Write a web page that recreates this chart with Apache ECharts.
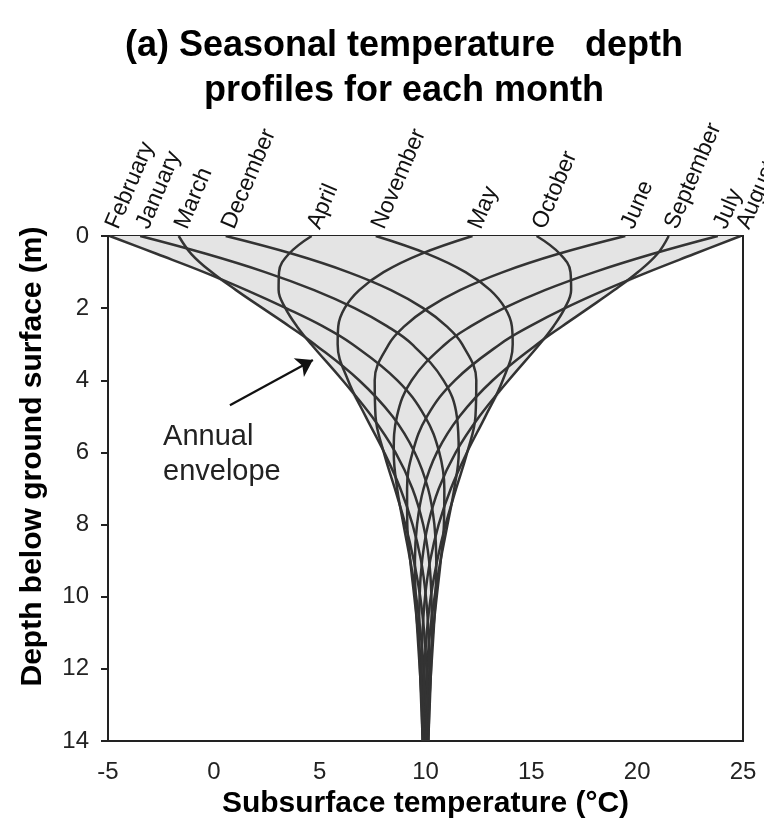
<!DOCTYPE html>
<html>
<head>
<meta charset="utf-8">
<script src="https://cdn.jsdelivr.net/npm/echarts@6/dist/echarts.min.js"></script>
<style>html,body{margin:0;padding:0;background:#fff}#c{width:764px;height:834px}</style>
</head>
<body>
<div id="c"></div>
<script>
// ---- data ----
const depths = [0, 0.5, 1, 1.5, 2, 2.5, 3, 4, 5, 6, 7, 8, 9, 10, 11, 12, 13, 14];
const monthNames = ['January','February','March','April','May','June','July','August','September','October','November','December'];
const january   = [-3.48,-0.33, 2.42, 4.74, 6.65, 8.18, 9.36,10.85,11.48,11.57,11.36,11.04,10.71,10.43,10.21,10.07, 9.99, 9.94];
const february  = [-4.92,-2.68,-0.47, 1.54, 3.41, 5.14, 6.55, 8.67, 9.97,10.65,10.89,10.87,10.72,10.53,10.35,10.20,10.09,10.02];
const march     = [-1.66,-1.06,-0.11, 1.05, 2.30, 3.56, 4.76, 6.86, 8.44, 9.49,10.12,10.42,10.51,10.47,10.38,10.27,10.17,10.09];
const april     = [ 4.62, 3.54, 3.08, 3.06, 3.38, 3.92, 4.60, 6.08, 7.46, 8.58, 9.38, 9.89,10.17,10.28,10.30,10.26,10.20,10.13];
const may       = [12.22, 9.77, 8.02, 6.87, 6.18, 5.88, 5.85, 6.34, 7.17, 8.05, 8.81, 9.39, 9.79,10.02,10.14,10.18,10.17,10.14];
const june      = [19.44,16.25,13.66,11.63,10.11, 9.01, 8.27, 7.60, 7.64, 8.03, 8.55, 9.05, 9.45, 9.75, 9.94,10.05,10.10,10.11];
const july      = [23.81,20.71,17.98,15.64,13.71,12.15,10.93, 9.35, 8.65, 8.50, 8.66, 8.96, 9.28, 9.56, 9.77, 9.92,10.00,10.05];
const august    = [24.89,22.69,20.51,18.46,16.59,14.94,13.52,11.39,10.07, 9.39, 9.13, 9.14, 9.28, 9.47, 9.65, 9.80, 9.91, 9.98];
const september = [21.49,20.95,20.04,18.92,17.70,16.46,15.27,13.18,11.61,10.54, 9.91, 9.60, 9.50, 9.53, 9.62, 9.73, 9.83, 9.90];
const october   = [15.25,16.36,16.85,16.88,16.58,16.05,15.39,13.93,12.55,11.43,10.63,10.12, 9.84, 9.72, 9.70, 9.74, 9.80, 9.87];
const november  = [ 7.65,10.12,11.89,13.06,13.76,14.08,14.12,13.65,12.83,11.96,11.20,10.62,10.22, 9.98, 9.86, 9.82, 9.83, 9.86];
const december  = [ 0.56, 3.75, 6.34, 8.37, 9.89,10.99,11.73,12.40,12.36,11.97,11.45,10.95,10.55,10.25,10.06, 9.95, 9.90, 9.89];
const profiles = [january,february,march,april,may,june,july,august,september,october,november,december];

const xTicks = [-5, 0, 5, 10, 15, 20, 25];
const yTicks = [0, 2, 4, 6, 8, 10, 12, 14];

// annotation (data coordinates)
const arrowFrom = [0.76, 4.69];
const arrowTo = [4.68, 3.44];
const noteAt = [-2.4, 6.07];
const noteText = 'Annual\nenvelope';

const titleText = '(a) Seasonal temperature   depth\nprofiles for each month';
const xName = 'Subsurface temperature (°C)';
const yName = 'Depth below ground surface (m)';

// ---- build ----
const FONT = "'Liberation Sans', Arial, Helvetica, sans-serif";
const envMin = depths.map((z, i) => Math.min(...profiles.map(p => p[i])));
const envMax = depths.map((z, i) => Math.max(...profiles.map(p => p[i])));

const series = [];
series.push({
  type: 'custom',
  silent: true,
  z: 1,
  data: [[0, 0]],
  renderItem: function (params, api) {
    const pts = [];
    for (let i = 0; i < depths.length; i++) pts.push(api.coord([envMin[i], depths[i]]));
    for (let i = depths.length - 1; i >= 0; i--) pts.push(api.coord([envMax[i], depths[i]]));
    return { type: 'polygon', shape: { points: pts }, style: { fill: '#e4e4e4', stroke: null } };
  }
});
profiles.forEach((p, k) => {
  series.push({
    type: 'line',
    name: monthNames[k],
    silent: true,
    z: 3,
    smooth: 0.4,
    showSymbol: false,
    symbol: 'none',
    data: depths.map((z, i) => [p[i], z]),
    lineStyle: { color: '#333', width: 2.5 }
  });
});
series.push({
  type: 'scatter',
  silent: true,
  clip: false,
  z: 4,
  symbolSize: 0,
  itemStyle: { opacity: 1 },
  data: profiles.map((p, k) => [p[0], depths[0], monthNames[k]]),
  label: {
    show: true,
    position: 'inside',
    formatter: (q) => q.data[2],
    rotate: 67,
    align: 'left',
    verticalAlign: 'bottom',
    offset: [8.5, 10.5],
    fontSize: 23,
    fontFamily: FONT,
    color: '#111',
    opacity: 1
  }
});
series.push({
  type: 'lines',
  coordinateSystem: 'cartesian2d',
  silent: true,
  z: 5,
  symbol: ['none', 'arrow'],
  symbolSize: 16,
  data: [{ coords: [arrowFrom, arrowTo] }],
  lineStyle: { color: '#111', width: 2.2, opacity: 1 }
});
series.push({
  type: 'scatter',
  silent: true,
  clip: false,
  z: 5,
  symbolSize: 0,
  itemStyle: { opacity: 1 },
  data: [[noteAt[0], noteAt[1], noteText]],
  label: {
    show: true,
    position: 'inside',
    formatter: (q) => q.data[2],
    align: 'left',
    verticalAlign: 'middle',
    fontSize: 29,
    lineHeight: 35,
    fontFamily: FONT,
    color: '#222',
    opacity: 1
  }
});

const chart = echarts.init(document.getElementById('c'), null, { renderer: 'canvas' });
chart.setOption({
  animation: false,
  backgroundColor: '#fff',
  graphic: [{
    type: 'text',
    x: 404,
    y: 24,
    style: {
      text: titleText,
      align: 'center',
      verticalAlign: 'top',
      fontSize: 36,
      fontWeight: 'bold',
      fontFamily: FONT,
      lineHeight: 45,
      fill: '#000'
    }
  }],
  grid: {
    left: 108, right: 21, top: 236, bottom: 93,
    show: true, borderColor: '#222', borderWidth: 2,
    outerBoundsMode: 'none'
  },
  xAxis: {
    type: 'value',
    min: xTicks[0], max: xTicks[xTicks.length - 1], interval: 5,
    position: 'bottom',
    splitLine: { show: false },
    axisTick: { show: false },
    axisLine: { onZero: false, lineStyle: { color: '#222', width: 2 } },
    axisLabel: { fontSize: 24, fontFamily: FONT, color: '#222', margin: 19 },
    name: xName,
    nameLocation: 'middle',
    nameGap: 48,
    nameMoveOverlap: false,
    nameTextStyle: { fontSize: 30, fontWeight: 'bold', fontFamily: FONT, color: '#000' }
  },
  yAxis: {
    type: 'value',
    inverse: true,
    position: 'left',
    min: yTicks[0], max: yTicks[yTicks.length - 1], interval: 2,
    splitLine: { show: false },
    axisTick: { show: true, inside: false, length: 7, lineStyle: { color: '#222', width: 2 } },
    axisLine: { onZero: false, lineStyle: { color: '#222', width: 2 } },
    axisLabel: { fontSize: 24, fontFamily: FONT, color: '#222', margin: 19 },
    name: yName,
    nameLocation: 'middle',
    nameGap: 60,
    nameMoveOverlap: false,
    nameTextStyle: { fontSize: 30, fontWeight: 'bold', fontFamily: FONT, color: '#000', padding: [0, 0, 0, 64] }
  },
  series: series
});
</script>
</body>
</html>
